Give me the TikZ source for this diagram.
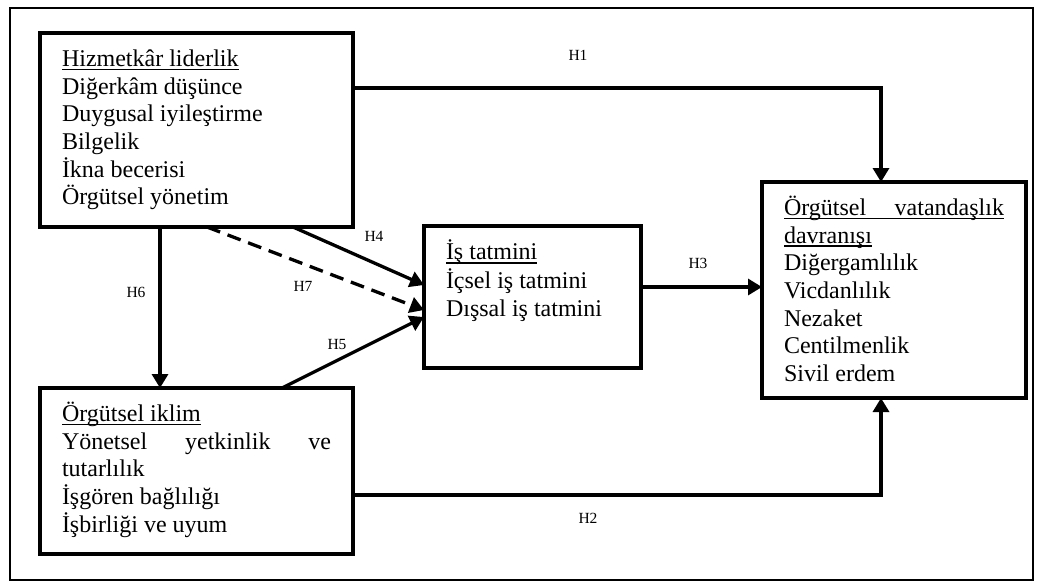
\documentclass[tikz,border=0pt]{standalone}
\usepackage{fontspec}
\setmainfont{Liberation Serif}
\usepackage{tikz}
\usetikzlibrary{arrows.meta,positioning}
\newcommand{\ulhead}[1]{\leavevmode\setbox0\hbox{#1}\rlap{\rule[-4pt]{\wd0}{1.8pt}}\box0}
\begin{document}
\begin{tikzpicture}[
    x=1pt, y=-1pt,
    box/.style={draw, rectangle, line width=3.5pt, anchor=north west, outer sep=0pt,
                inner xsep=22pt, inner ysep=14pt, font=\fontsize{24}{27.7}\selectfont},
    arrow/.style={line width=3.3pt, -{Triangle[length=14pt,width=16pt]}},
    hlabel/.style={font=\fontsize{15.5}{18}\selectfont}
]
    \useasboundingbox (0,0) rectangle (1043,582);
    \draw[line width=1.8pt] (10,8) rectangle (1033,580);

    % Boxes
    \node[box] (hl) at (40,33) {\parbox[c][166pt][t]{269pt}{\raggedright\strut\ulhead{Hizmetkâr liderlik}\\
        Diğerkâm düşünce\\ Duygusal iyileştirme\\ Bilgelik\\ İkna becerisi\\ Örgütsel yönetim}};
    \node[box] (ik) at (40,388) {\parbox[c][138pt][t]{269pt}{\raggedright\strut\ulhead{Örgütsel iklim}\\
        \makebox[\linewidth][s]{Yönetsel yetkinlik ve}\\ tutarlılık\\ İşgören bağlılığı\\ İşbirliği ve uyum}};
    \node[box] (is) at (424,226) {\parbox[c][114pt][t]{173pt}{\raggedright\strut\ulhead{İş tatmini}\\
        İçsel iş tatmini\\ Dışsal iş tatmini}};
    \node[box] (vd) at (762,182) {\parbox[c][188pt][t]{220pt}{\raggedright\strut\ulhead{\makebox[\linewidth][s]{Örgütsel vatandaşlık}}\\
        \ulhead{davranışı}\\ Diğergamlılık\\ Vicdanlılık\\ Nezaket\\ Centilmenlik\\ Sivil erdem}};

    % Arrows
    \coordinate (h3s) at ([yshift=10pt]is.east);
    \draw[arrow] ([yshift=42pt]hl.east) -| ([xshift=-13pt]vd.north);
    \draw[arrow] ([yshift=-24pt]ik.east) -| ([xshift=-13pt]vd.south);
    \draw[arrow] (h3s) -- (h3s -| vd.west);
    \draw[arrow] ([xshift=96.5pt]hl.south) -- ([yshift=12pt]is.west);
    \draw[arrow] ([xshift=85.5pt]ik.north) -- ([yshift=-20pt]is.west);
    \draw[arrow] ([xshift=-36.5pt]hl.south) -- ([xshift=-36.5pt]ik.north);
    \draw[arrow, dash pattern=on 14pt off 8pt] ([xshift=10.5pt]hl.south) -- ([yshift=-13pt]is.west);

    % Labels
    \node[hlabel] (h1) at (578,55) {H1};
    \node[hlabel] (h2) at (588,518) {H2};
    \node[hlabel] (h3) at (698,263) {H3};
    \node[hlabel] (h4) at (374,236) {H4};
    \node[hlabel] (h5) at (337,344) {H5};
    \node[hlabel] (h6) at (136,292) {H6};
    \node[hlabel] (h7) at (303,286) {H7};
\end{tikzpicture}
\end{document}
